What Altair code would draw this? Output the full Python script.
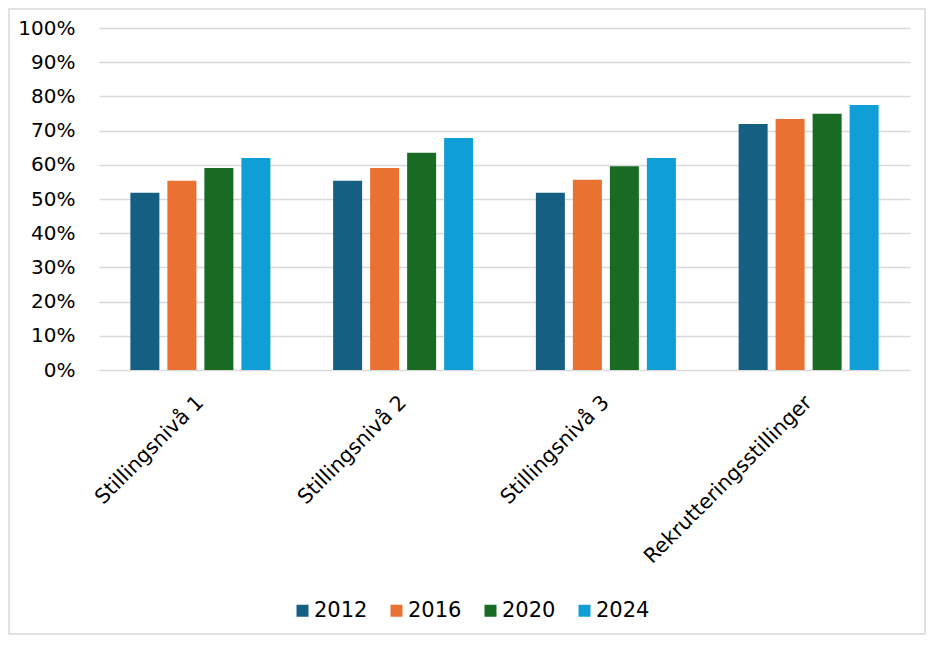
import altair as alt
import pandas as pd

categories = ["Stillingsnivå 1", "Stillingsnivå 2", "Stillingsnivå 3", "Rekrutteringsstillinger"]
years = ["2012", "2016", "2020", "2024"]
v2012 = [0.518, 0.553, 0.518, 0.719]
v2016 = [0.553, 0.591, 0.556, 0.734]
v2020 = [0.591, 0.635, 0.596, 0.749]
v2024 = [0.620, 0.678, 0.620, 0.775]
colors = ["#156082", "#E97132", "#196B24", "#0F9ED5"]
y_ticks = [0, 0.1, 0.2, 0.3, 0.4, 0.5, 0.6, 0.7, 0.8, 0.9, 1.0]

rows = []
for yr, vals in zip(years, [v2012, v2016, v2020, v2024]):
    for c, v in zip(categories, vals):
        rows.append({"kategori": c, "år": yr, "andel": v})
df = pd.DataFrame(rows)

FONT = "DejaVu Sans"

bars = alt.Chart(df).mark_bar().encode(
    x=alt.X("kategori:N", sort=categories, title=None,
            scale=alt.Scale(paddingInner=0.27, paddingOuter=0.135),
            axis=alt.Axis(labelAngle=-45, labelFontSize=20.5, labelFont=FONT,
                          labelColor="#000000", domain=False, ticks=False,
                          tickSize=0, labelPadding=29, labelLimit=0,
                          labelAlign="right", labelBaseline="middle")),
    xOffset=alt.XOffset("år:N", sort=years,
                        scale=alt.Scale(paddingInner=0.216, paddingOuter=0.108)),
    y=alt.Y("andel:Q", title=None,
            scale=alt.Scale(domain=[0, 1], nice=False),
            axis=alt.Axis(values=y_ticks, format=".0%", labelFontSize=20,
                          labelFont=FONT, labelColor="#000000", domain=False,
                          ticks=False, tickSize=0, labelPadding=24,
                          gridColor="#d9d9d9", gridWidth=1.3)),
    color=alt.Color("år:N", sort=years, title=None,
                    scale=alt.Scale(domain=years, range=colors),
                    legend=alt.Legend(orient="none", legendX=193, legendY=572,
                                      direction="horizontal", symbolType="square",
                                      symbolSize=144, symbolStrokeWidth=0,
                                      labelFontSize=21, labelFont=FONT,
                                      labelColor="#000000", labelOffset=1,
                                      columnPadding=18, padding=0)),
)

border = alt.Chart(pd.DataFrame({"a": [0]})).mark_rect(
    filled=False, stroke="#d9d9d9", strokeWidth=1.5
).encode(
    x=alt.value(-90),
    x2=alt.value(826),
    y=alt.value(-19),
    y2=alt.value(606),
)

chart = alt.layer(bars, border).properties(
    width=811, height=342,
    autosize="none",
    padding={"left": 91, "top": 20, "right": 16, "bottom": 265},
).configure_view(stroke=None)

chart.save("out.html", embed_options={"renderer": "svg", "actions": False})
